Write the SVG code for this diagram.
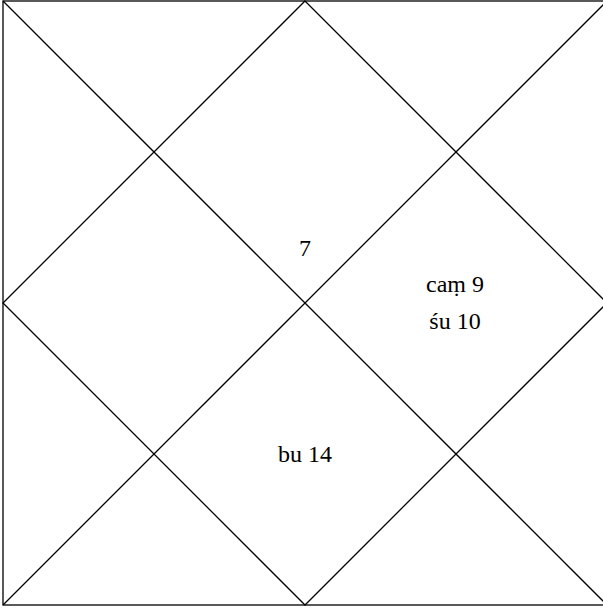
<svg xmlns="http://www.w3.org/2000/svg" width="603" height="610" viewBox="0 0 603 610">
<style>
.l{stroke:#000;stroke-width:1.3;fill:none}
.t{font-family:"Liberation Serif","DejaVu Serif",serif;font-size:24px;fill:#000;text-anchor:middle}
</style>
<rect width="603" height="610" fill="#fff"/>
<g id="connectors">
<rect class="l" x="3" y="1" width="604" height="604"/>
<line class="l" x1="3" y1="1" x2="607" y2="605"/>
<line class="l" x1="607" y1="1" x2="3" y2="605"/>
<polygon class="l" points="305,1 607,303 305,605 3,303"/>
</g>
<g id="h1"><text class="t" x="305" y="256">7</text></g>
<g id="h2"><text class="t" x="455" y="292">caṃ 9</text><text class="t" x="455" y="329">śu 10</text></g>
<g id="h3"><text class="t" x="305" y="462">bu 14</text></g>
</svg>
